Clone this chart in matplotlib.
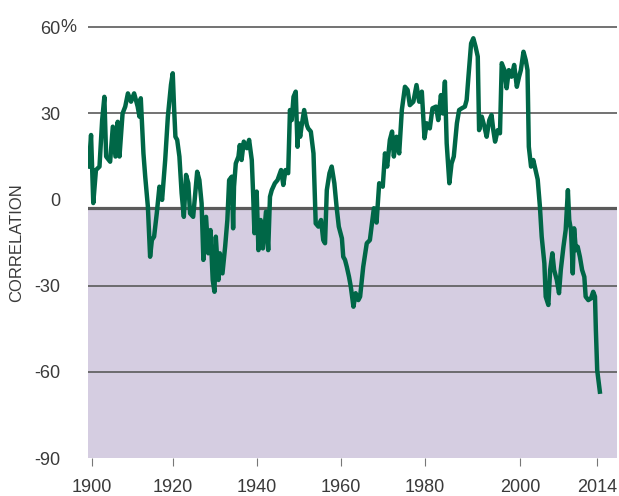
import matplotlib
matplotlib.use("Agg")
import matplotlib.pyplot as plt
from matplotlib.transforms import blended_transform_factory

plt.rcParams['font.family'] = ['Liberation Sans', 'DejaVu Sans']

# rolling correlation
years = [1899.4, 1899.9, 1900.4, 1901.0, 1901.8, 1902.4, 1902.9, 1903.3, 1904.2, 1904.8,
         1905.4, 1905.9, 1906.3, 1907.0, 1907.6, 1908.2, 1908.9, 1909.6, 1910.4, 1910.8,
         1911.1, 1911.7, 1912.1, 1912.7, 1913.2, 1913.6, 1914.1, 1914.7, 1915.3, 1915.9,
         1916.6, 1917.2, 1917.9, 1918.3, 1918.6, 1918.9, 1919.3, 1919.8, 1920.3, 1920.8,
         1921.3, 1921.8, 1922.2, 1922.9, 1923.8, 1924.3, 1924.8, 1925.2, 1925.8, 1926.3,
         1926.8, 1927.3, 1927.7, 1928.0, 1928.6, 1928.9, 1929.5, 1930.1, 1930.6, 1931.0,
         1931.6, 1931.9, 1932.1, 1932.5, 1933.1, 1933.4, 1933.8, 1934.3, 1935.0, 1935.5,
         1936.1, 1936.4, 1936.7, 1937.2, 1937.6, 1938.1, 1938.6, 1939.3, 1939.8, 1940.2,
         1940.6, 1941.3, 1941.9, 1942.7, 1943.2, 1943.7, 1944.3, 1944.7, 1945.1, 1945.5,
         1946.0, 1946.4, 1946.6, 1947.0, 1947.3, 1947.9, 1948.5, 1948.8, 1949.4, 1950.0,
         1950.5, 1951.1, 1951.7, 1952.2, 1952.6, 1953.0, 1953.6, 1954.1, 1954.7, 1955.2,
         1955.7, 1956.4, 1956.7, 1957.1, 1957.5, 1958.0, 1958.4, 1959.0, 1959.5, 1960.1,
         1960.5, 1961.2, 1962.0, 1962.7, 1963.2, 1963.6, 1964.2, 1964.8, 1965.6, 1966.1,
         1966.6, 1967.2, 1967.7, 1968.1, 1968.7, 1969.3, 1969.9, 1970.6, 1971.2, 1971.7,
         1972.5, 1973.2, 1973.8, 1974.4, 1975.0, 1975.5, 1976.2, 1976.8, 1977.6, 1978.1,
         1978.7, 1979.1, 1979.6, 1980.0, 1980.6, 1981.1, 1981.6, 1982.3, 1982.8, 1983.4,
         1984.1, 1984.5, 1984.9, 1985.5, 1986.0, 1986.5, 1987.0, 1987.3, 1987.9, 1988.5,
         1989.0, 1989.6, 1990.1, 1990.5, 1990.9, 1991.5, 1992.0, 1992.4, 1993.0, 1993.5,
         1994.0, 1994.6, 1995.2, 1995.8, 1996.3, 1996.7, 1997.3, 1997.8, 1998.2, 1998.5,
         1999.0, 1999.5, 2000.5, 2001.0, 2001.4, 2002.0, 2002.3, 2002.9, 2003.3, 2003.8,
         2004.2, 2004.8, 2005.3, 2005.7, 2006.3, 2006.8, 2007.3, 2007.6, 2008.0, 2008.4,
         2008.7, 2009.1, 2009.5, 2010.0, 2010.5, 2011.0, 2011.3, 2011.9, 2012.5, 2013.0,
         2013.4, 2013.6, 2013.9, 2014.5]
corr = [11.5, 22.5, -1.2, 10.3, 11.5, 27.7, 35.8, 15.0, 13.2, 25.4,
        15.0, 27.1, 15.0, 30.0, 32.4, 37.0, 34.1, 37.0, 32.4, 28.9,
        35.3, 16.1, 8.0, -2.5, -19.9, -14.1, -12.9, -4.8, 4.5, -0.1,
        13.8, 28.9, 40.0, 44.0, 32.0, 21.9, 20.8, 15.0, 2.2, -6.0,
        8.6, 5.7, -4.8, -6.0, 9.7, 6.8, -1.3, -21.0, -6.0, -18.7,
        -10.6, -28.0, -32.1, -12.9, -28.0, -18.7, -25.7, -16.4, -7.1, 6.8,
        8.0, -10.0, 4.5, 12.6, 15.0, 19.0, 13.8, 20.2, 17.9, 20.8,
        13.8, 2.2, -11.7, 2.8, -17.6, -7.1, -17.0, -4.2, -17.6, 1.0,
        3.3, 5.7, 6.8, 10.3, 5.1, 10.3, 9.2, 31.2, 27.7, 35.8,
        37.6, 18.4, 26.6, 21.9, 25.4, 31.2, 26.0, 24.8, 23.7, 16.1,
        -8.3, -9.4, -7.1, -14.1, -15.2, 3.3, 9.2, 11.5, 5.7, -2.5,
        -9.4, -13.5, -19.9, -21.0, -23.4, -26.9, -30.3, -37.3, -32.6, -35.0,
        -33.8, -23.4, -15.2, -14.1, -8.0, -3.0, -8.0, 5.7, 4.5, 16.1,
        11.5, 20.8, 23.7, 15.0, 21.9, 16.1, 31.2, 39.3, 38.2, 32.9,
        34.1, 39.9, 34.1, 37.6, 21.4, 26.6, 24.8, 31.8, 32.4, 27.7,
        36.4, 30.0, 41.1, 19.6, 5.7, 12.6, 15.0, 26.6, 31.2, 31.8,
        32.4, 34.7, 42.8, 54.4, 56.2, 53.3, 49.8, 24.2, 28.9, 25.4,
        21.9, 27.7, 29.5, 24.2, 20.2, 24.2, 23.1, 47.5, 45.1, 38.8,
        45.1, 42.8, 46.9, 39.3, 42.8, 45.1, 51.5, 48.6, 45.1, 18.4,
        11.5, 13.8, 7.0, -2.5, -12.9, -22.2, -33.8, -36.7, -24.5, -18.7,
        -24.5, -28.0, -32.6, -24.5, -16.4, -10.6, 3.3, -7.1, -10.6, -25.7,
        -10.0, -17.6, -16.4, -19.9, -24.5, -26.9, -33.8, -35.0, -34.4, -32.1,
        -33.8, -45.4, -59.4, -66.9]

grid_vals = [60, 30, -30, -60]
ytick_vals = [60, 30, 0, -30, -60, -90]
ytick_labels = ['60', '30', '0', '-30', '-60', '-90']
# the original's year labels are not evenly spaced; put them where it puts them
xtick_pos = [1900.1, 1918.4, 1937.3, 1956.2, 1975.1, 1996.5, 2013.9]
xtick_labels = ['1900', '1920', '1940', '1960', '1980', '2000', '2014']
base = -2.9  # the heavy "zero" rule sits a touch below 0 in the original

green = '#006747'
lilac = '#D5CDE1'
rule = '#5a5a5a'
txt = '#3a3a3a'

fig = plt.figure(figsize=(6.19, 4.96), dpi=100)
ax = fig.add_axes([0.14265, 0.07661, 0.85412, 0.87984])
ax.set_xlim(1899.28, 2018.36)
ax.set_ylim(-90, 62)

ax.axhspan(-90, base, color=lilac, lw=0, zorder=0)
for g in grid_vals:
    ax.axhline(g, color=rule, lw=1.2, zorder=1)
ax.axhline(base, color=rule, lw=2.3, zorder=2)

ax.plot(years, corr, color=green, lw=3.2, solid_joinstyle='round', zorder=3)

for s in ax.spines.values():
    s.set_visible(False)

ax.set_yticks(ytick_vals)
ax.set_yticklabels(ytick_labels)
ax.tick_params(axis='y', length=0, pad=20, labelsize=13, labelcolor=txt)
ax.set_xticks(xtick_pos)
ax.set_xticklabels(xtick_labels)
ax.tick_params(axis='x', length=6, width=0.8, color='#777777', pad=9,
               labelsize=13, labelcolor=txt)

tr = blended_transform_factory(fig.transFigure, ax.transData)
ax.text(60.5 / 619, 60, '%', transform=tr, ha='left', va='center',
        fontsize=13, color=txt)

fig.text(16.7 / 619, 1 - 243 / 496, 'CORRELATION', rotation=90,
         ha='center', va='center', fontsize=12, color=txt)

fig.savefig('out.png', dpi=100)
